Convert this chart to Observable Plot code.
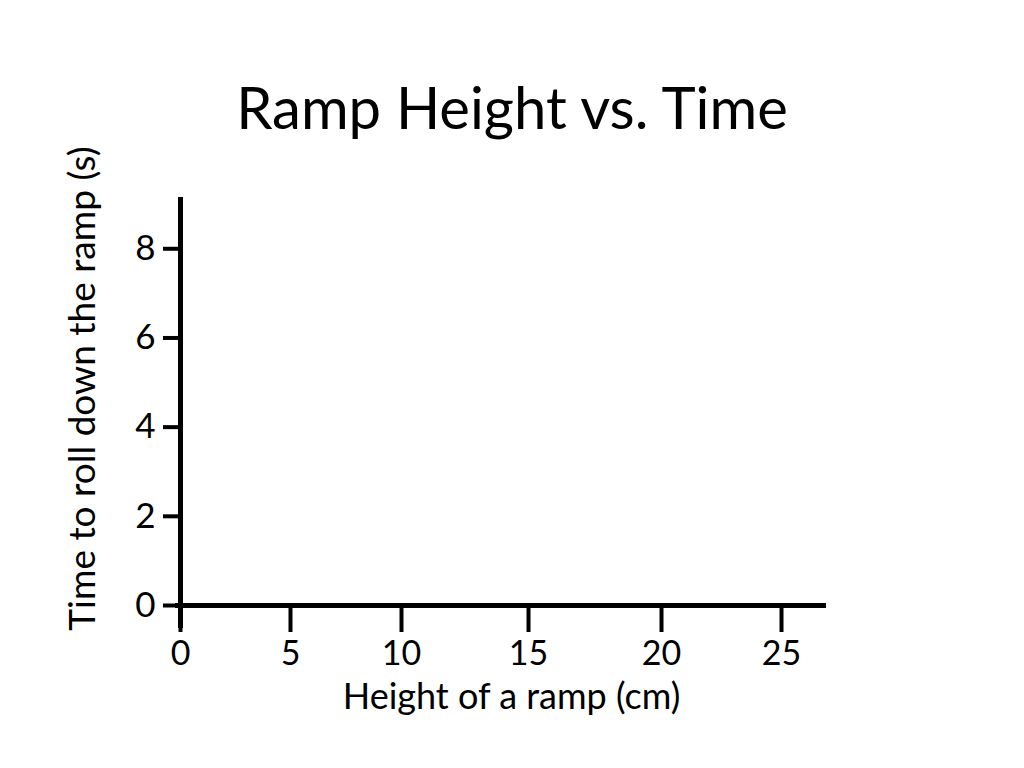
<!DOCTYPE html>
<html>
<head>
<meta charset="utf-8">
<script src="https://cdn.jsdelivr.net/npm/d3@7"></script>
<script src="https://cdn.jsdelivr.net/npm/@observablehq/plot@0.6"></script>
<style>
  html, body { margin: 0; padding: 0; background: #fff; }
  body { width: 1024px; height: 768px; overflow: hidden; font-family: Lato, "Open Sans", sans-serif; }
  #title { height: 130px; box-sizing: border-box; padding-top: 78px; text-align: center; font-size: 58px; line-height: 58px; color: #000; white-space: nowrap; overflow: visible; }
  #chart svg { display: block; }
</style>
</head>
<body>
<div id="title"></div>
<div id="chart"></div>
<script>
// Chart content (the reference is an empty graph frame)
const title = "Ramp Height vs. Time";
const xLabel = "Height of a ramp (cm)";
const yLabel = "Time to roll down the ramp (s)";
const xTicks = [0, 5, 10, 15, 20, 25];
const yTicks = [0, 2, 4, 6, 8];
const points = []; // no plotted data in the reference

document.getElementById("title").textContent = title;

const chart = Plot.plot({
  width: 1024,
  height: 638,
  marginLeft: 180,
  marginRight: 198,
  marginTop: 67,
  marginBottom: 163,
  style: { fontFamily: "Lato, 'Open Sans', sans-serif", color: "#000", background: "#fff", overflow: "visible" },
  x: { type: "linear", domain: xTicks, range: [180, 290, 401, 528, 661, 781] },
  y: { domain: [0, 9.15] },
  marks: [
    Plot.axisY({ ticks: yTicks, tickSize: 17, tickPadding: 8, fontSize: 35, strokeWidth: 4, label: null }),
    Plot.axisX({ ticks: xTicks, tickSize: 27, tickPadding: 8, fontSize: 34, strokeWidth: 4, label: null }),
    Plot.text([yLabel], {
      text: d => d, frameAnchor: "left", rotate: -90, textAnchor: "middle", lineAnchor: "middle",
      dx: -97, dy: -13, fontSize: 37, fill: "#000"
    }),
    Plot.text([xLabel], {
      text: d => d, frameAnchor: "bottom", textAnchor: "middle", lineAnchor: "middle",
      dx: 8, dy: 92, fontSize: 36, fill: "#000"
    }),
    Plot.ruleX([0], { strokeWidth: 5, insetBottom: -23 }),
    Plot.ruleY([0], { strokeWidth: 5, insetLeft: -5 }),
    Plot.dot(points, { x: "x", y: "y" })
  ]
});
document.getElementById("chart").appendChild(chart);
</script>
</body>
</html>
